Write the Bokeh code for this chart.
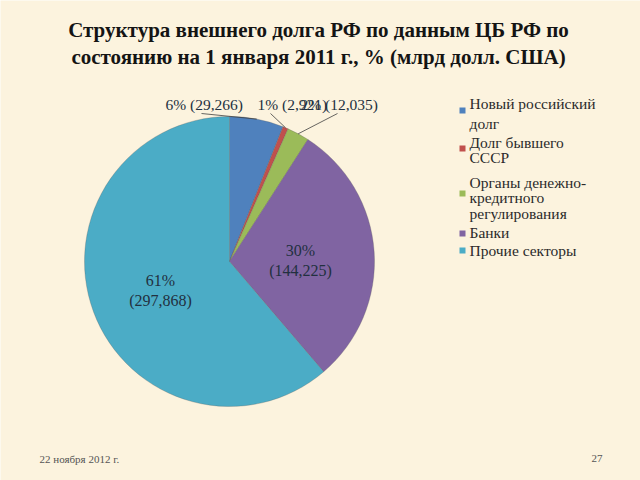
import math
from bokeh.plotting import figure
from bokeh.models import Range1d, ColumnDataSource
from bokeh.core.properties import value
from bokeh.embed import file_html
from bokeh.resources import INLINE

# ---- data ----
categories = ["Новый российский долг", "Долг бывшего СССР",
              "Органы денежно-кредитного регулирования", "Банки", "Прочие секторы"]
legend_lines = [["Новый российский", "долг"], ["Долг бывшего", "СССР"],
                ["Органы денежно-", "кредитного", "регулирования"], ["Банки"], ["Прочие секторы"]]
values = [29.266, 2.921, 12.035, 144.225, 297.868]
colors = ["#4F81BD", "#C0504D", "#9BBB59", "#8064A2", "#4BACC6"]
title_lines = ["Структура внешнего долга РФ по данным ЦБ РФ по",
               "состоянию на 1 января 2011 г., % (млрд долл. США)"]
footer_left = "22 ноября 2012 г."
footer_right = "27"

W, H = 640, 480
BG = "#FCF3DE"
SERIF = value("Liberation Serif")

def Y(img_y):
    return H - img_y

p = figure(width=W, height=H, x_range=Range1d(0, W), y_range=Range1d(0, H),
           output_backend="svg", toolbar_location=None, min_border=0,
           background_fill_color=BG, border_fill_color=BG, outline_line_color=None)
p.axis.visible = False
p.xgrid.visible = False
p.ygrid.visible = False

# ---- pie ----
cx, cy, r = 229, Y(261), 145
total = sum(values)
fracs = [v / total for v in values]
cum = [0.0]
for f in fracs:
    cum.append(cum[-1] + f)
starts = [math.pi / 2 - cum[i + 1] * 2 * math.pi for i in range(len(values))]
ends = [math.pi / 2 - cum[i] * 2 * math.pi for i in range(len(values))]
mids = [math.pi / 2 - (cum[i] + cum[i + 1]) / 2 * 2 * math.pi for i in range(len(values))]
src = ColumnDataSource(dict(x=[cx] * len(values), y=[cy] * len(values), start=starts, end=ends, color=colors))
p.wedge(x="x", y="y", radius=r, start_angle="start", end_angle="end", fill_color="color",
        line_color="#5a5a5a", line_alpha=0.35, line_width=0.8, source=src)

def fmt(v):
    return f"{v:.3f}".replace(".", ",")

pct = [round(f * 100) for f in fracs]
label_color = "#22303F"

# outside labels for small slices (index, text-x, align, leader start)
outside = [(0, 165, "left", (201, 113)), (1, 257, "left", (270, 113)), (2, 300, "left", (337, 113))]
for i, tx, al, (lx, ly) in outside:
    ex = cx + r * math.cos(mids[i])
    ey = cy + r * math.sin(mids[i])
    p.line([lx, ex], [Y(ly), ey], line_color="#404040", line_width=0.8)
    p.text([tx], [Y(104)], text=[f"{pct[i]}% ({fmt(values[i])})"], text_align=al,
           text_baseline="middle", text_font=SERIF, text_font_size="15.5px", text_color=label_color)

# inside labels
inside = [(3, 300, 250), (4, 160, 280)]
for i, tx, ty in inside:
    p.text([tx, tx], [Y(ty), Y(ty + 20)], text=[f"{pct[i]}%", f"({fmt(values[i])})"],
           text_align="center", text_baseline="middle", text_font=SERIF,
           text_font_size="16px", text_color=label_color)

# ---- legend ----
line_ys = [[103, 123], [142, 157], [182, 197, 213], [232], [250]]
square_ys = [110, 148, 193, 233, 250]
for i in range(len(categories)):
    p.rect([462], [Y(square_ys[i])], width=6, height=6, fill_color=colors[i], line_color=None)
    p.text([469] * len(legend_lines[i]), [Y(v) for v in line_ys[i]], text=legend_lines[i],
           text_align="left", text_baseline="middle", text_font=SERIF,
           text_font_size="15.5px", text_color="#2a2a2a")

# ---- title ----
p.text([318, 318], [Y(29), Y(56)], text=title_lines, text_align="center", text_baseline="middle",
       text_font=SERIF, text_font_size="21px", text_font_style="bold", text_color="#141414")

# ---- footer ----
p.text([39], [Y(458)], text=[footer_left], text_align="left", text_baseline="middle",
       text_font=SERIF, text_font_size="11px", text_color="#555555")
p.text([602], [Y(458)], text=[footer_right], text_align="right", text_baseline="middle",
       text_font=SERIF, text_font_size="11px", text_color="#555555")

open("out.html", "w").write(file_html(p, INLINE))
